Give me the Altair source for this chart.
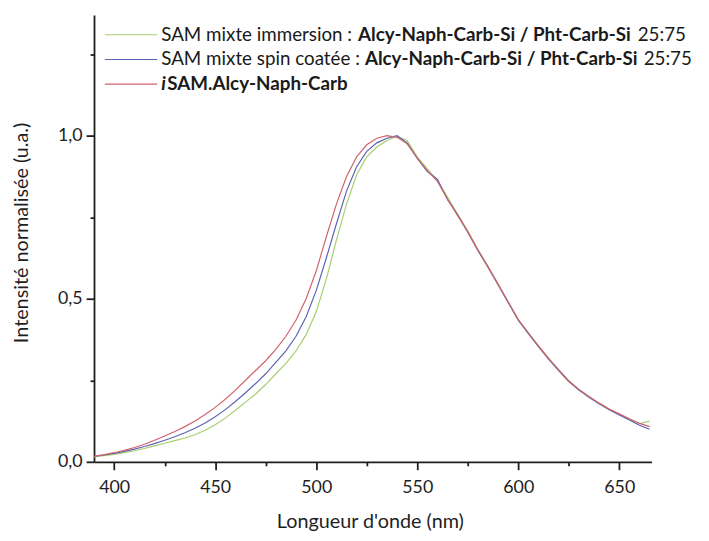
import altair as alt
import pandas as pd

# ---------------- data ----------------
wavelength = list(range(390, 666, 5))

immersion = [0.016, 0.019, 0.023, 0.028, 0.034, 0.041, 0.049, 0.057, 0.065, 0.073,
             0.083, 0.097, 0.114, 0.134, 0.158, 0.183, 0.208, 0.237, 0.270, 0.302,
             0.340, 0.390, 0.460, 0.560, 0.680, 0.790, 0.880, 0.935, 0.965, 0.985,
             0.998, 0.985, 0.935, 0.898, 0.862, 0.812, 0.760, 0.708, 0.652, 0.600,
             0.546, 0.491, 0.437, 0.396, 0.356, 0.318, 0.283, 0.249, 0.223, 0.200,
             0.180, 0.162, 0.146, 0.131, 0.117, 0.125]

spin = [0.017, 0.021, 0.026, 0.032, 0.039, 0.047, 0.056, 0.066, 0.077, 0.089,
        0.103, 0.119, 0.138, 0.160, 0.185, 0.212, 0.240, 0.270, 0.305, 0.340,
        0.385, 0.445, 0.525, 0.625, 0.730, 0.830, 0.905, 0.952, 0.978, 0.992,
        1.000, 0.978, 0.930, 0.890, 0.866, 0.804, 0.757, 0.704, 0.648, 0.597,
        0.543, 0.489, 0.434, 0.393, 0.353, 0.315, 0.280, 0.246, 0.220, 0.198,
        0.178, 0.160, 0.144, 0.128, 0.112, 0.100]

isam = [0.017, 0.022, 0.028, 0.035, 0.044, 0.054, 0.066, 0.079, 0.093, 0.108,
        0.125, 0.145, 0.167, 0.192, 0.220, 0.250, 0.280, 0.310, 0.345, 0.385,
        0.435, 0.500, 0.585, 0.690, 0.790, 0.875, 0.935, 0.972, 0.992, 1.000,
        0.995, 0.975, 0.932, 0.893, 0.860, 0.806, 0.755, 0.706, 0.650, 0.598,
        0.545, 0.490, 0.436, 0.395, 0.355, 0.317, 0.282, 0.248, 0.222, 0.200,
        0.180, 0.162, 0.147, 0.132, 0.118, 0.108]

series_keys = ["immersion", "spin", "isam"]
series_colors = ["#a6d06e", "#5d63b3", "#d0646e"]

x_tick_values = [400, 425, 450, 475, 500, 525, 550, 575, 600, 625, 650]
y_tick_values = [0.0, 0.25, 0.5, 0.75, 1.0, 1.25]

legend_row1 = ["SAM mixte immersion :", "Alcy-Naph-Carb-Si / Pht-Carb-Si", "25:75"]
legend_row2 = ["SAM mixte spin coatée :", "Alcy-Naph-Carb-Si / Pht-Carb-Si", "25:75"]
legend_row3 = ["i", "SAM.Alcy-Naph-Carb"]

x_title = "Longueur d'onde (nm)"
y_title = "Intensité normalisée (u.a.)"

# ---------------- build ----------------
rows = []
for key, vals in zip(series_keys, [immersion, spin, isam]):
    for w, v in zip(wavelength, vals):
        rows.append({"wl": w, "v": v, "serie": key})
df = pd.DataFrame(rows)

W, H = 564, 452
FONT = "Lato"

x_axis = alt.Axis(
    values=x_tick_values,
    labelExpr="datum.value % 50 === 0 ? datum.label : ''",
    tickSize={"condition": {"test": "datum.value % 50 === 0", "value": 8}, "value": 4},
    title=x_title,
    titleX=279, titleY=60, titleAlign="center", titleBaseline="middle",
    labelPadding=9,
    format="d",
)
y_axis = alt.Axis(
    values=y_tick_values,
    labelExpr="abs(datum.value*2 - round(datum.value*2)) < 0.001 ? replace(format(datum.value, '.1f'), '.', ',') : ''",
    tickSize={"condition": {"test": "abs(datum.value*2 - round(datum.value*2)) < 0.001", "value": 8},
              "value": 4},
    title=y_title,
    titleX=-73, titleY=220, titleAngle=-90, titleAlign="center", titleBaseline="middle",
    labelPadding=4,
)

x_enc = alt.X("wl:Q", scale=alt.Scale(domain=[390, 666], nice=False, zero=False), axis=x_axis)
y_enc = alt.Y("v:Q", scale=alt.Scale(domain=[0, 1.37], nice=False, zero=False), axis=y_axis)

layers = []
for key, col in zip(series_keys, series_colors):
    layers.append(
        alt.Chart(df).transform_filter(alt.datum.serie == key)
        .mark_line(strokeWidth=1.2, color=col, clip=True)
        .encode(x=x_enc, y=y_enc)
    )

# legend (manual, to allow mixed bold/regular text)
legend_y = [20, 45, 70]
leg_df = pd.DataFrame({"d": [0]})
LEG_FS = 19


def seg(text, x, y, weight="normal", style="normal"):
    return alt.Chart(leg_df).mark_text(
        text=text, align="left", baseline="middle", font=FONT, fontSize=LEG_FS,
        fontWeight=weight, fontStyle=style, color="#1a1a1a",
    ).encode(x=alt.value(x), y=alt.value(y))


for col, y in zip(series_colors, legend_y):
    layers.append(
        alt.Chart(leg_df).mark_rule(color=col, strokeWidth=1.2)
        .encode(x=alt.value(11), x2=alt.value(64), y=alt.value(y))
    )

layers.append(seg(legend_row1[0], 68, legend_y[0]))
layers.append(seg(legend_row1[1], 267, legend_y[0], weight="bold"))
layers.append(seg(legend_row1[2], 550, legend_y[0]))
layers.append(seg(legend_row2[0], 68, legend_y[1]))
layers.append(seg(legend_row2[1], 274, legend_y[1], weight="bold"))
layers.append(seg(legend_row2[2], 556, legend_y[1]))
layers.append(seg(legend_row3[0], 68, legend_y[2], weight="bold", style="italic"))
layers.append(seg(legend_row3[1], 74, legend_y[2], weight="bold"))

chart = alt.layer(*layers).properties(
    width=W, height=H,
    autosize=alt.AutoSizeParams(type="none"),
    padding={"left": 87, "top": 4, "right": 50, "bottom": 77},
    background="white",
).configure_view(stroke=None).configure_axis(
    grid=False,
    domainColor="#1e1e1e", domainWidth=1.8,
    tickColor="#1e1e1e", tickWidth=1.8,
    labelFont=FONT, labelFontSize=18, labelColor="#1e1e1e",
    titleFont=FONT, titleFontSize=20, titleFontWeight="normal", titleColor="#1e1e1e",
)

chart.save("out.html", embed_options={"renderer": "svg", "actions": False})
